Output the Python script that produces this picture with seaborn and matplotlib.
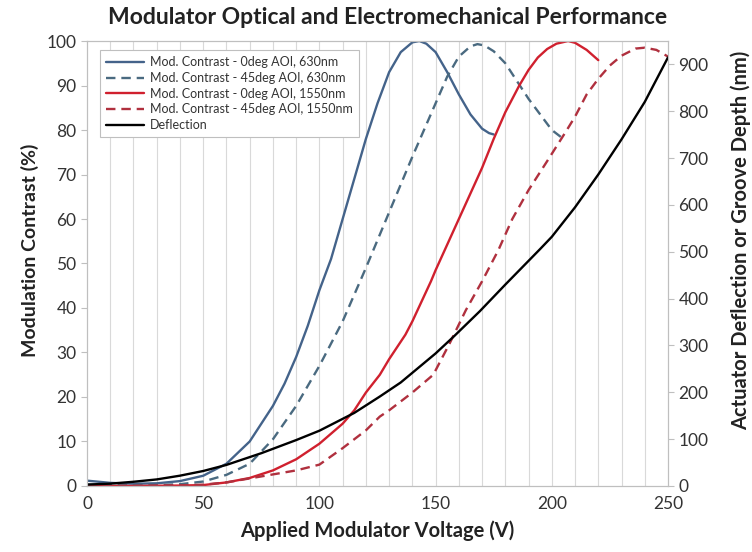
import matplotlib
matplotlib.use("Agg")
import matplotlib.pyplot as plt
from matplotlib.ticker import MultipleLocator
from matplotlib.lines import Line2D
import seaborn as sns

# Mod. Contrast - 0deg AOI, 630nm
v_blue0 = [0, 10, 20, 30, 40, 50, 60, 70, 80, 85, 90, 95, 100, 105, 110, 115, 120, 125, 130, 135, 140, 143, 146, 150, 155, 160, 165, 170, 173, 175]
c_blue0 = [1.2, 0.7, 0.5, 0.6, 1.1, 2.3, 5, 10, 18, 23, 29, 36, 44, 51, 60, 69, 78, 86, 93, 97.5, 99.7, 100, 99.4, 97.5, 93, 88, 83.5, 80.3, 79.3, 79]

# Mod. Contrast - 45deg AOI, 630nm
v_blue45 = [0, 10, 20, 30, 40, 50, 60, 70, 80, 90, 100, 110, 120, 130, 140, 150, 155, 160, 165, 168, 171, 175, 180, 185, 190, 195, 200, 205]
c_blue45 = [0.3, 0.2, 0.2, 0.2, 0.4, 1.0, 2.5, 5, 10.5, 18, 27, 37, 49, 61.5, 74, 86, 92, 96.5, 98.8, 99.3, 99, 97.7, 95, 91, 87, 83.5, 80, 78]

# Mod. Contrast - 0deg AOI, 1550nm
v_red0 = [0, 20, 40, 50, 60, 70, 80, 90, 100, 110, 115, 120, 126, 130, 137, 140, 148, 150, 160, 170, 175, 180, 186, 190, 194, 198, 202, 207, 210, 215, 220]
c_red0 = [0, 0, 0.1, 0.2, 0.8, 1.8, 3.5, 6, 9.5, 14, 17, 21, 25, 28.5, 34, 37, 46, 48.5, 60, 71.5, 78, 84, 90, 93.5, 96.3, 98.2, 99.4, 100, 99.6, 98, 95.7]

# Mod. Contrast - 45deg AOI, 1550nm
v_red45 = [0, 20, 40, 50, 60, 70, 80, 90, 100, 110, 120, 126, 130, 135, 140, 149, 156, 163, 170, 177, 183, 190, 198, 206, 210, 215, 220, 225, 230, 236, 240, 245, 250]
c_red45 = [0, 0, 0.1, 0.3, 0.8, 1.7, 2.6, 3.5, 4.8, 8.5, 12.5, 15.6, 17, 19, 21, 25, 32, 39.5, 46, 53, 60, 66.5, 73, 79.6, 83, 88, 91.5, 94.5, 96.7, 98.3, 98.5, 98, 96.5]

# Deflection (nm, right axis)
v_defl = [0, 10, 20, 30, 40, 50, 60, 75, 90, 100, 115, 126, 135, 150, 158, 169, 180, 195, 200, 210, 220, 230, 240, 250]
d_defl = [3, 5, 9, 14, 22, 32, 45, 70, 98, 118, 156, 191, 221, 283, 320, 373, 430, 506, 532, 595, 665, 740, 820, 915]

labels = [
    "Mod. Contrast - 0deg AOI, 630nm",
    "Mod. Contrast - 45deg AOI, 630nm",
    "Mod. Contrast - 0deg AOI, 1550nm",
    "Mod. Contrast - 45deg AOI, 1550nm",
    "Deflection",
]

BLUE = "#44638A"
BLUE_D = "#4A6A80"
RED = "#D0202E"
RED_D = "#B0303E"
DASH = (0, (4, 2.5))

sns.set_style("white")
plt.rcParams["font.family"] = ["Lato", "DejaVu Sans"]

fig = plt.figure(figsize=(7.52, 5.52), dpi=100)
ax = fig.add_axes([0.1157, 0.1196, 0.7726, 0.8061])
ax2 = ax.twinx()

ax.grid(False)
ax2.grid(False)
for x in range(10, 250, 10):
    ax.axvline(x, color="#D9D9D9", lw=0.8, zorder=0)

kw = dict(lw=1.7, solid_joinstyle="round", dash_joinstyle="round")
sns.lineplot(x=v_blue0, y=c_blue0, ax=ax, color=BLUE, **kw)
sns.lineplot(x=v_blue45, y=c_blue45, ax=ax, color=BLUE_D, linestyle=DASH, **kw)
sns.lineplot(x=v_red0, y=c_red0, ax=ax, color=RED, **kw)
sns.lineplot(x=v_red45, y=c_red45, ax=ax, color=RED_D, linestyle=DASH, **kw)
sns.lineplot(x=v_defl, y=d_defl, ax=ax2, color="black", **kw)

ax.set_xlim(0, 250)
ax.set_ylim(0, 100)
ax2.set_ylim(0, 950)
ax.xaxis.set_major_locator(MultipleLocator(50))
ax.xaxis.set_minor_locator(MultipleLocator(10))
ax.yaxis.set_major_locator(MultipleLocator(10))
ax2.yaxis.set_major_locator(MultipleLocator(100))

for a in (ax, ax2):
    for s in a.spines.values():
        s.set_color("#BFBFBF")
        s.set_linewidth(0.8)
ax.tick_params(axis="both", which="both", colors="#BFBFBF", labelcolor="#333333",
               labelsize=12.5, length=4, direction="out")
ax.tick_params(axis="x", which="minor", length=3)
ax2.tick_params(axis="y", colors="#BFBFBF", labelcolor="#333333", labelsize=12.5, length=4)

lab = dict(fontsize=14.5, fontweight="bold", color="#222222")
ax.set_xlabel("Applied Modulator Voltage (V)", labelpad=6, **lab)
ax.set_ylabel("Modulation Contrast (%)", fontsize=14, fontweight="bold", color="#222222")
ax2.set_ylabel("Actuator Deflection or Groove Depth (nm)", **lab)
ax.yaxis.set_label_coords(-0.083, 0.53)
ax2.yaxis.set_label_coords(1.108, 0.553)
fig.text(0.516, 0.968, "Modulator Optical and Electromechanical Performance",
         ha="center", va="center", fontsize=16.5, fontweight="bold", color="#222222")

handles = [
    Line2D([], [], color=BLUE, lw=1.7),
    Line2D([], [], color=BLUE_D, lw=1.7, linestyle=DASH),
    Line2D([], [], color=RED, lw=1.7),
    Line2D([], [], color=RED_D, lw=1.7, linestyle=DASH),
    Line2D([], [], color="black", lw=1.7),
]
leg = ax.legend(handles, labels, loc="upper left", bbox_to_anchor=(0.012, 0.994),
                fontsize=9, frameon=True, fancybox=False, framealpha=1,
                edgecolor="#BFBFBF", handlelength=3.0, handletextpad=0.5,
                borderpad=0.5, labelspacing=0.3)
leg.get_frame().set_linewidth(0.8)
for t in leg.get_texts():
    t.set_color("#333333")

fig.savefig("out.png", dpi=100)
